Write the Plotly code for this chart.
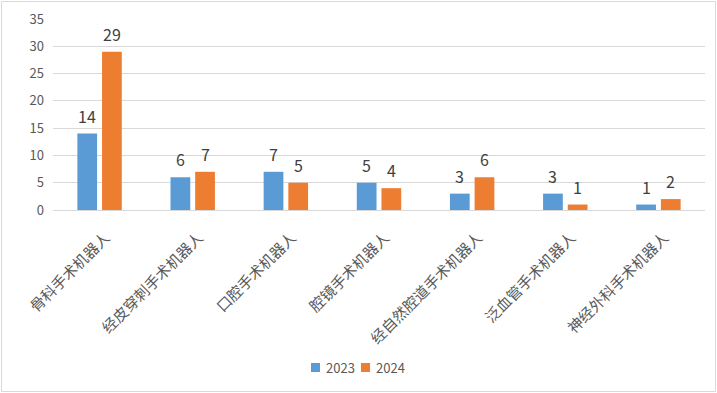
import plotly.graph_objects as go

categories = ["骨科手术机器人", "经皮穿刺手术机器人", "口腔手术机器人", "腔镜手术机器人",
              "经自然腔道手术机器人", "泛血管手术机器人", "神经外科手术机器人"]
series_names = ["2023", "2024"]
values_2023 = [14, 6, 7, 5, 3, 3, 1]
values_2024 = [29, 7, 5, 4, 6, 1, 2]
y_ticks = [0, 5, 10, 15, 20, 25, 30, 35]

colors = ["#5B9BD5", "#ED7D31"]
W, H = 717, 393
ml, mr, mt, mb = 53, 12, 19, 183
FONT = "Noto Sans CJK SC, Liberation Sans"

fig = go.Figure()
for name, vals, col in zip(series_names, [values_2023, values_2024], colors):
    fig.add_trace(go.Bar(x=categories, y=vals, name=name, marker_color=col,
                         marker_line_width=0, showlegend=False))

pw = W - ml - mr
ph = H - mt - mb
def px_x(px):
    return (px - ml) / pw
def px_y(py):
    return (H - mb - py) / ph

# data labels
cat_w = pw / len(categories)
bargap, groupgap = 0.47, 0.2
slot = cat_w * (1 - bargap) / 2
for i, vals in enumerate([values_2023, values_2024]):
    xs = (i - 0.5) * slot
    for c, v in zip(categories, vals):
        fig.add_annotation(x=c, y=v, text=str(v), showarrow=False, xshift=xs,
                           yshift=18, font=dict(size=16, color="#404040", family=FONT))

# outer border
fig.add_shape(type="rect", xref="paper", yref="paper",
              x0=px_x(1.5), x1=px_x(715.5), y0=px_y(391.5), y1=px_y(1.5),
              line=dict(color="#d9d9d9", width=1), layer="below")

# custom legend
legend_x = [311, 361]
for name, col, lx in zip(series_names, colors, legend_x):
    fig.add_shape(type="rect", xref="paper", yref="paper",
                  x0=px_x(lx), x1=px_x(lx + 9), y0=px_y(372), y1=px_y(363),
                  fillcolor=col, line=dict(width=0))
    fig.add_annotation(xref="paper", yref="paper", x=px_x(lx + 13), y=px_y(367.5),
                       xanchor="left", yanchor="middle", showarrow=False, text=name,
                       font=dict(size=13, color="#595959", family=FONT))

fig.update_layout(
    width=W, height=H, margin=dict(l=ml, r=mr, t=mt, b=mb, autoexpand=False),
    paper_bgcolor="white", plot_bgcolor="white",
    barmode="group", bargap=bargap, bargroupgap=groupgap,
    font=dict(family=FONT, color="#595959"),
    showlegend=False,
    xaxis=dict(tickangle=-45, tickfont=dict(size=15, color="#595959"), automargin=False,
               showline=True, linecolor="#d9d9d9", linewidth=1, ticks="",
               ticklabelstandoff=12, ticklabelshift=6),
    yaxis=dict(range=[0, 35], tickvals=y_ticks, showgrid=True, gridcolor="#d9d9d9",
               gridwidth=1, zeroline=False, tickfont=dict(size=13, color="#595959"),
               automargin=False, ticks="", ticklabelstandoff=8),
)
fig.write_html("out.html", config={"displayModeBar": False},
               post_script="document.body.style.margin='0';document.body.style.overflow='hidden';")
